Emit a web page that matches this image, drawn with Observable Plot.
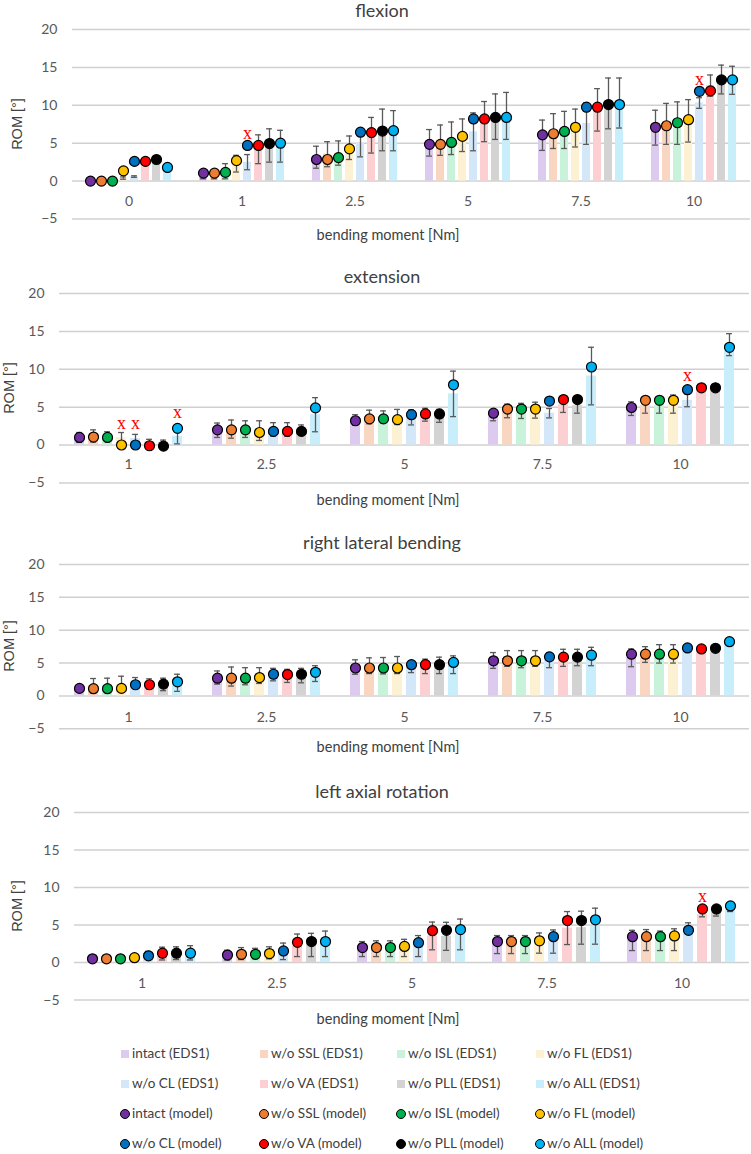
<!DOCTYPE html>
<html><head><meta charset="utf-8">
<script src="https://cdn.jsdelivr.net/npm/d3@7"></script>
<script src="https://cdn.jsdelivr.net/npm/@observablehq/plot@0.6"></script>
<style>
body{margin:0;background:#fff;}
#root{position:relative;width:751px;height:1154px;font-family:Lato,sans-serif;color:#595959;overflow:hidden;background:#fff}
.abs{position:absolute;white-space:nowrap;transform:translate(-50%,-50%);line-height:1}
.leg{position:absolute;white-space:nowrap;transform:translateY(-50%);font-size:13.5px;color:#404040;line-height:1}
</style></head><body><div id="root"></div>
<script>
// ---------- data ----------
const series = ["intact", "w/o SSL", "w/o ISL", "w/o FL", "w/o CL", "w/o VA", "w/o PLL", "w/o ALL"];
const paleColors = ["#dccbef", "#f9d6c1", "#c9f2da", "#fdf1d3", "#d3e7f9", "#fcd0d2", "#d3d3d3", "#c8edfb"];
const modelColors = ["#7030a0", "#ed7d31", "#00b050", "#ffc000", "#0070c0", "#ff0000", "#000000", "#00b0f0"];
const yTicks = [-5, 0, 5, 10, 15, 20];

// flexion
const flexionCats = ["0", "1", "2.5", "5", "7.5", "10"];
const flexionMean = [
  [0, 0, 0, 0.4, 0.6, 2.5, 2.7, 1.4],
  [0.5, 0.5, 1.3, 2.3, 2.5, 4.2, 4.7, 4.6],
  [3.15, 3.55, 3.7, 4.4, 5.0, 6.05, 6.75, 6.65],
  [5.05, 5.4, 5.65, 6.05, 6.5, 7.85, 8.5, 8.6],
  [6.05, 6.6, 6.75, 7.0, 7.6, 9.4, 10.25, 10.3],
  [7.05, 7.55, 7.65, 7.95, 10.3, 12.6, 13.4, 13.3]
];
const flexionSD = [
  [0, 0, 0, 0.15, 0.1, 0, 0, 0],
  [0.2, 0.2, 1.0, 1.1, 1.0, 1.9, 2.2, 2.1],
  [1.45, 1.65, 1.6, 1.55, 1.8, 2.35, 2.75, 2.65],
  [1.75, 2.0, 2.15, 2.15, 2.5, 2.65, 3.0, 3.1],
  [2.0, 2.3, 2.45, 2.5, 2.75, 2.8, 3.35, 3.3],
  [2.3, 2.7, 2.8, 2.8, 0.7, 1.4, 1.9, 1.85]
];
const flexionModel = [
  [0, 0, 0, 1.35, 2.6, 2.6, 2.85, 1.8],
  [1.05, 1.05, 1.15, 2.7, 4.7, 4.7, 4.95, 5.0],
  [2.85, 2.85, 3.1, 4.25, 6.45, 6.4, 6.6, 6.65],
  [4.85, 4.85, 5.1, 5.9, 8.2, 8.2, 8.4, 8.4],
  [6.1, 6.25, 6.55, 7.1, 9.75, 9.75, 10.1, 10.1],
  [7.1, 7.3, 7.7, 8.1, 11.85, 11.9, 13.35, 13.35]
];
const flexionFlags = [
  {cat: "1", series: "w/o CL", y: 6.35},
  {cat: "10", series: "w/o CL", y: 13.4}
];

// extension
const extensionCats = ["1", "2.5", "5", "7.5", "10"];
const extensionMean = [
  [1.0, 1.2, 1.1, 1.0, 0.85, 0.4, 0.35, 1.15],
  [1.95, 2.1, 2.1, 1.9, 2.05, 2.05, 1.95, 4.0],
  [3.3, 3.7, 3.7, 3.7, 3.65, 4.0, 3.85, 6.75],
  [3.9, 4.5, 4.5, 4.6, 4.2, 5.3, 5.2, 9.1],
  [4.8, 5.2, 5.2, 5.4, 5.9, 7.5, 7.5, 13.25]
];
const extensionSD = [
  [0.65, 0.8, 0.65, 0.65, 0.55, 0.35, 0.3, 1.0],
  [0.95, 1.2, 1.1, 1.3, 0.9, 0.9, 0.7, 2.25],
  [0.7, 0.9, 0.8, 1.0, 1.0, 0.85, 0.85, 3.0],
  [0.7, 0.9, 1.0, 1.05, 0.62, 1.0, 1.0, 3.8],
  [0.9, 1.0, 1.0, 1.2, 0.85, 0.2, 0.2, 1.45]
];
const extensionModel = [
  [1.0, 1.05, 1.0, 0, 0, -0.1, -0.15, 2.2],
  [2.0, 2.0, 2.0, 1.65, 1.8, 1.8, 1.8, 4.9],
  [3.2, 3.45, 3.45, 3.35, 4.0, 4.1, 4.1, 7.95],
  [4.2, 4.75, 4.75, 4.75, 5.8, 6.0, 6.0, 10.3],
  [4.95, 5.9, 5.9, 5.9, 7.3, 7.55, 7.55, 12.9]
];
const extensionFlags = [
  {cat: "1", series: "w/o FL", y: 2.9},
  {cat: "1", series: "w/o CL", y: 2.9},
  {cat: "1", series: "w/o ALL", y: 4.3},
  {cat: "10", series: "w/o CL", y: 9.2}
];

// right lateral bending
const lateralCats = ["1", "2.5", "5", "7.5", "10"];
const lateralMean = [
  [1.1, 1.55, 1.6, 1.8, 2.0, 1.8, 1.75, 2.0],
  [2.8, 2.95, 3.0, 3.1, 3.25, 3.05, 3.1, 3.4],
  [4.4, 4.6, 4.6, 4.7, 4.45, 4.5, 4.65, 4.75],
  [5.4, 5.7, 5.6, 5.7, 5.45, 5.8, 5.85, 6.0],
  [5.8, 6.3, 6.4, 6.4, 7.3, 7.2, 7.3, 8.2]
];
const lateralSD = [
  [0.3, 1.1, 1.1, 1.2, 0.8, 0.8, 0.95, 1.3],
  [1.0, 1.45, 1.3, 1.2, 0.95, 1.0, 1.1, 1.2],
  [1.1, 1.2, 1.25, 1.3, 0.9, 1.1, 1.25, 1.35],
  [1.2, 1.2, 1.3, 1.2, 1.15, 1.3, 1.25, 1.4],
  [1.35, 1.2, 1.4, 1.4, 0.2, 0.2, 0.2, 0.2]
];
const lateralModel = [
  [1.15, 1.1, 1.1, 1.15, 1.7, 1.7, 1.8, 2.15],
  [2.7, 2.7, 2.7, 2.8, 3.3, 3.25, 3.3, 3.6],
  [4.25, 4.25, 4.25, 4.25, 4.75, 4.75, 4.75, 5.1],
  [5.35, 5.35, 5.35, 5.35, 5.95, 5.9, 5.9, 6.2],
  [6.35, 6.35, 6.35, 6.35, 7.3, 7.15, 7.25, 8.25]
];
const lateralFlags = [];

// left axial rotation
const axialCats = ["1", "2.5", "5", "7.5", "10"];
const axialMean = [
  [0.5, 0.5, 0.5, 0.6, 1.0, 1.2, 1.25, 1.3],
  [1.0, 1.2, 1.2, 1.3, 1.5, 2.3, 2.35, 2.5],
  [1.8, 1.85, 1.85, 1.95, 2.2, 3.55, 3.5, 3.75],
  [2.4, 2.4, 2.4, 2.6, 2.8, 4.6, 4.65, 4.85],
  [2.95, 3.0, 2.9, 3.05, 4.7, 6.4, 6.7, 7.2]
];
const axialSD = [
  [0.1, 0.1, 0.1, 0.1, 0.5, 0.85, 0.85, 0.95],
  [0.65, 0.8, 0.7, 0.8, 1.1, 1.5, 1.55, 1.7],
  [1.0, 1.05, 1.05, 1.15, 1.4, 1.85, 1.87, 2.05],
  [1.2, 1.2, 1.2, 1.35, 1.55, 2.2, 2.2, 2.4],
  [1.35, 1.4, 1.3, 1.45, 0.6, 0.3, 0.5, 0.4]
];
const axialModel = [
  [0.5, 0.5, 0.5, 0.65, 0.9, 1.25, 1.25, 1.25],
  [1.0, 1.1, 1.1, 1.2, 1.55, 2.7, 2.8, 2.8],
  [2.0, 2.0, 2.0, 2.15, 2.65, 4.25, 4.3, 4.4],
  [2.8, 2.8, 2.8, 2.9, 3.45, 5.6, 5.6, 5.7],
  [3.45, 3.45, 3.45, 3.55, 4.3, 7.15, 7.15, 7.55]
];
const axialFlags = [
  {cat: "10", series: "w/o VA", y: 8.9}
];

// ---------- layout ----------
const panels = [
  {title: "flexion", cats: flexionCats, mean: flexionMean, sd: flexionSD, model: flexionModel, flags: flexionFlags,
   top20: 29.3, h: 189.5, left: 72, titleY: 10, xTitleY: 235, romX: 17, catY: -2.65},
  {title: "extension", cats: extensionCats, mean: extensionMean, sd: extensionSD, model: extensionModel, flags: extensionFlags,
   top20: 293.3, h: 189.4, left: 57, titleY: 276, xTitleY: 500, romX: 9, catY: -2.6},
  {title: "right lateral bending", cats: lateralCats, mean: lateralMean, sd: lateralSD, model: lateralModel, flags: lateralFlags,
   top20: 564, h: 164.3, left: 57, titleY: 542, xTitleY: 747, romX: 9, catY: -3.25},
  {title: "left axial rotation", cats: axialCats, mean: axialMean, sd: axialSD, model: axialModel, flags: axialFlags,
   top20: 811.7, h: 187.6, left: 72, titleY: 791, xTitleY: 1019, romX: 17, catY: -2.8}
];

const root = document.getElementById("root");
function addText(txt, x, y, css) {
  const d = document.createElement("div");
  d.className = "abs";
  d.textContent = txt;
  d.style.left = x + "px";
  d.style.top = y + "px";
  Object.assign(d.style, css || {});
  root.appendChild(d);
  return d;
}

const pInner = 0.27, pOuter = 0.89, capW = 6.5;
panels.forEach(p => {
  const rows = [];
  p.cats.forEach((c, i) => series.forEach((s, j) => rows.push({
    cat: c, series: s, mean: p.mean[i][j], sd: p.sd[i][j], model: p.model[i][j],
    pale: paleColors[j], dark: modelColors[j]
  })));
  const err = rows.filter(d => d.sd > 0);
  const mt = 8, mb = 6;
  const W = (750 - p.left) / p.cats.length;
  const step = W / (8 - pInner + 2 * pOuter);
  const bw = step * (1 - pInner);
  const inset = Math.max(0, (bw - capW) / 2);
  const chart = Plot.plot({
    width: 751, height: p.h + mt + mb,
    marginTop: mt, marginBottom: mb, marginLeft: p.left, marginRight: 1,
    style: {fontFamily: "Lato, sans-serif", fontSize: "13px", color: "#595959", background: "transparent", overflow: "visible"},
    fx: {domain: p.cats, padding: 0, axis: null},
    x: {domain: series, paddingInner: pInner, paddingOuter: pOuter, axis: null},
    y: {domain: [-5, 20], axis: null},
    color: {type: "identity"},
    marks: [
      Plot.gridY(yTicks, {stroke: "#d0d0d0", strokeOpacity: 1, strokeWidth: 1.5}),
      Plot.axisY(yTicks, {anchor: "left", tickSize: 0, tickPadding: 15, fontSize: 14, fill: "#595959", label: null}),
      Plot.barY(rows, {fx: "cat", x: "series", y: "mean", fill: "pale"}),
      Plot.ruleX(err, {fx: "cat", x: "series", y1: d => d.mean - d.sd, y2: d => d.mean + d.sd, stroke: "#595959", strokeWidth: 1.3}),
      Plot.tickY(err, {fx: "cat", x: "series", y: d => d.mean + d.sd, stroke: "#595959", strokeWidth: 1.3, insetLeft: inset, insetRight: inset}),
      Plot.tickY(err, {fx: "cat", x: "series", y: d => d.mean - d.sd, stroke: "#595959", strokeWidth: 1.3, insetLeft: inset, insetRight: inset}),
      Plot.dot(rows, {fx: "cat", x: "series", y: "model", r: 5, fill: "dark", stroke: "#000", strokeWidth: 1.2}),
      Plot.text(p.cats, {fx: d => d, y: () => p.catY, text: d => d, fontSize: 14, fill: "#595959"}),
      Plot.text(p.flags, {fx: "cat", x: "series", y: "y", text: () => "x", fill: "#ff0000", fontFamily: "Liberation Serif", fontSize: 18})
    ]
  });
  chart.style.position = "absolute";
  chart.style.left = "0px";
  chart.style.top = (p.top20 - mt) + "px";
  chart.style.maxWidth = "none";
  root.appendChild(chart);

  addText(p.title, 382, p.titleY, {fontSize: "18px", color: "#404040"});
  addText("bending moment [Nm]", 388, p.xTitleY, {fontSize: "14.5px", color: "#404040"});
  const rom = addText("ROM [°]", p.romX, p.top20 + p.h * 0.5, {fontSize: "14.5px", color: "#404040", fontFamily: "'Liberation Sans', sans-serif"});
  rom.style.transform = "translate(-50%,-50%) rotate(-90deg)";
});

// ---------- legend ----------
const legendCols = [125, 264, 401, 540];
const legendRows = [1054, 1084, 1114, 1144];
series.forEach((s, j) => {
  const col = legendCols[j % 4];
  const r1 = legendRows[Math.floor(j / 4)];
  const sq = document.createElement("div");
  Object.assign(sq.style, {position: "absolute", left: (col - 4) + "px", top: (r1 - 4) + "px", width: "8px", height: "8px", background: paleColors[j]});
  root.appendChild(sq);
  const t1 = document.createElement("div");
  t1.className = "leg"; t1.textContent = s + " (EDS1)";
  t1.style.left = (col + 7) + "px"; t1.style.top = r1 + "px";
  root.appendChild(t1);
  const r2 = legendRows[2 + Math.floor(j / 4)];
  const ci = document.createElement("div");
  Object.assign(ci.style, {position: "absolute", left: (col - 5) + "px", top: (r2 - 5) + "px", width: "8px", height: "8px", borderRadius: "50%", background: modelColors[j], border: "1px solid #000"});
  root.appendChild(ci);
  const t2 = document.createElement("div");
  t2.className = "leg"; t2.textContent = s + " (model)";
  t2.style.left = (col + 7) + "px"; t2.style.top = r2 + "px";
  root.appendChild(t2);
});
</script></body></html>
